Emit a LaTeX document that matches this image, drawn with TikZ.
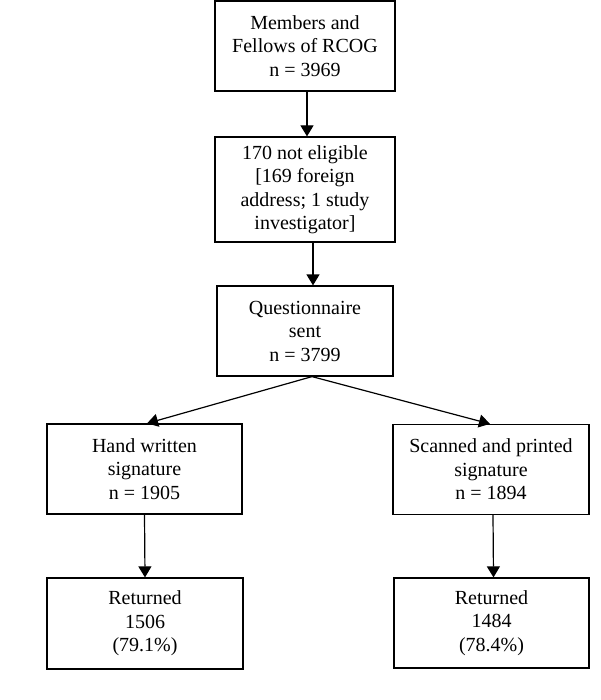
\documentclass[tikz,border=0pt]{standalone}
\usepackage{fontspec}
\setmainfont{Liberation Serif}
\usetikzlibrary{arrows.meta}
\begin{document}
\begin{tikzpicture}[x=1pt,y=-1pt,
  box/.style={draw, line width=1.2pt, align=center, inner sep=0pt,
    font=\fontsize{20}{23.5}\selectfont},
  conn/.style={line width=1.2pt, -{Triangle[length=11pt,width=13pt]}}]
\fill[white] (0,0) rectangle (600,700);
\useasboundingbox (0,0) rectangle (600,700);
\node[box, minimum width=180pt, minimum height=90pt] (b1) at (305,46)
  {Members and\\Fellows of RCOG\\n = 3969};
\node[box, minimum width=180pt, minimum height=105pt] (b2) at (305,189.5)
  {170 not eligible\\{[}169 foreign\\address; 1 study\\investigator{]}};
\node[box, minimum width=176pt, minimum height=90pt] (b3) at (305,331)
  {Questionnaire\\sent\\n = 3799};
\node[box, minimum width=195pt, minimum height=90pt] (l) at (144.5,469)
  {Hand written\\signature\\n = 1905};
\node[box, minimum width=196pt, minimum height=90pt] (r) at (491,469.5)
  {Scanned and printed\\signature\\n = 1894};
\node[box, minimum width=196pt, minimum height=91pt] (bl) at (145,623.5)
  {Returned\\1506\\(79.1\%)};
\node[box, minimum width=195pt, minimum height=90pt] (br) at (491.5,623)
  {Returned\\1484\\(78.4\%)};
\draw[conn] ([xshift=2pt]b1.south) -- ([xshift=2pt]b2.north);
\draw[conn] ([xshift=8pt]b2.south) -- ([xshift=8pt]b3.north);
\draw[conn] ([xshift=7pt]b3.south) -- ([xshift=2.5pt]l.north);
\draw[conn] ([xshift=7pt]b3.south) -- ([xshift=-1pt]r.north);
\draw[conn] (l.south) -- (bl.north);
\draw[conn] ([xshift=2pt]r.south) -- ([xshift=2pt]br.north);
\end{tikzpicture}
\end{document}
